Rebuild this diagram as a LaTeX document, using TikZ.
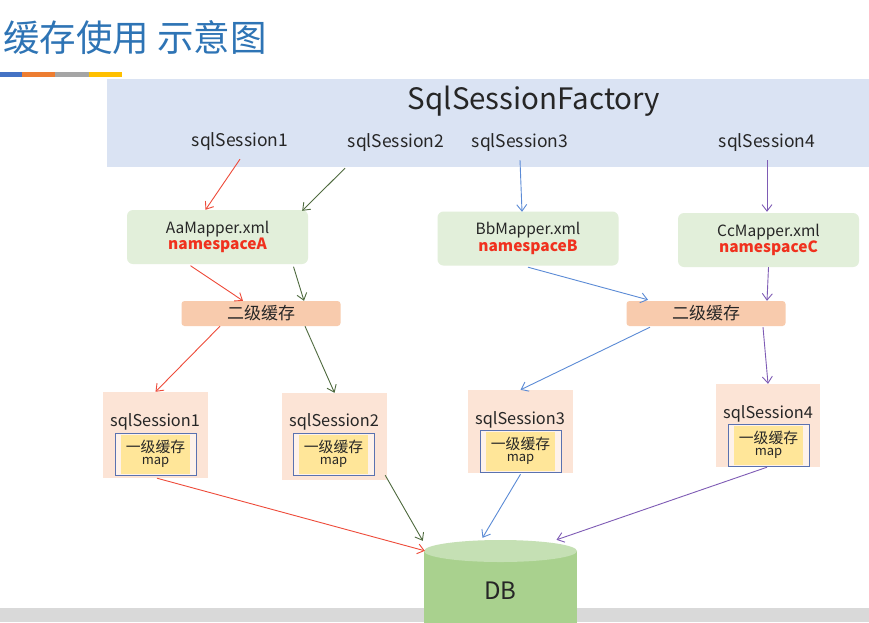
\documentclass[tikz,border=0pt]{standalone}
\usepackage{fontspec}
\setmainfont{Noto Sans CJK SC}
\usetikzlibrary{arrows.meta}
\definecolor{titleblue}{HTML}{2E74B5}
\definecolor{factfill}{HTML}{DAE3F3}
\definecolor{mapfill}{HTML}{E2EFDA}
\definecolor{cachetwo}{HTML}{F8CBAD}
\definecolor{sessfill}{HTML}{FCE4D6}
\definecolor{cacheone}{HTML}{FFE699}
\definecolor{innerline}{HTML}{5A72B0}
\definecolor{nsred}{HTML}{F0311E}
\definecolor{txt}{HTML}{262626}
\definecolor{cred}{HTML}{EE4B3A}
\definecolor{cgreen}{HTML}{4F6B3F}
\definecolor{cblue}{HTML}{5B8BD6}
\definecolor{cpurple}{HTML}{7E5BB5}
\definecolor{dbbody}{HTML}{A9D18E}
\definecolor{dbtop}{HTML}{C5E0B4}
\definecolor{barblue}{HTML}{4472C4}
\definecolor{barorange}{HTML}{ED7D31}
\definecolor{bargray}{HTML}{A5A5A5}
\definecolor{baryellow}{HTML}{FFC000}
\definecolor{floorgray}{HTML}{D9D9D9}
\begin{document}
\begin{tikzpicture}[x=1pt,y=-1pt,
  lab/.style={text=txt, font=\fontsize{17.5}{20}\selectfont, inner sep=1pt},
  mapbox/.style={fill=mapfill, rounded corners=6pt, minimum width=181pt, minimum height=54pt, inner sep=0pt, align=center, text=txt, font=\fontsize{15.5}{18}\selectfont},
  cachebox/.style={fill=cachetwo, rounded corners=3pt, minimum width=159pt, minimum height=25pt, inner sep=0pt, text=txt, font=\fontsize{17}{19}\selectfont},
  sessbox/.style={fill=sessfill, minimum width=105pt, inner sep=0pt},
  sesslab/.style={text=txt, font=\fontsize{16.3}{18}\selectfont, inner sep=0pt},
  innerbox/.style={draw=innerline, line width=0.8pt, fill=sessfill!50!white, minimum width=81pt, minimum height=42pt, inner sep=0pt, align=center, text=txt,
    path picture={\fill[cacheone] ([xshift=6pt,yshift=-1.5pt]path picture bounding box.north west) rectangle ([xshift=-6pt,yshift=1.5pt]path picture bounding box.south east);}},
  conn/.style={line width=0.9pt, -{Straight Barb[length=6.5pt,width=10pt]}}
]
\useasboundingbox (0,0) rectangle (869,622);
\fill[white] (0,0) rectangle (869,622);

% title and colour bar
\node[anchor=west, text=titleblue, font=\fontsize{36.5}{42}\selectfont, inner sep=0pt] (title) at (3,38) {缓存使用 示意图};
\fill[barblue] (0,72) rectangle (22,77);
\fill[barorange] (22,72) rectangle (55,77);
\fill[bargray] (55,72) rectangle (89,77);
\fill[baryellow] (89,72) rectangle (122,77);

% factory
\node[fill=factfill, minimum width=762pt, minimum height=88pt, anchor=north west, inner sep=0pt] (factory) at (107,79) {};
\node[text=txt, font=\fontsize{29.5}{33}\selectfont, inner sep=0pt] (fname) at (534,101) {SqlSessionFactory};
\node[lab] (s1lab) at (240,142) {sqlSession1};
\node[lab] (s2lab) at (396,143) {sqlSession2};
\node[lab] (s3lab) at (520,143) {sqlSession3};
\node[lab] (s4lab) at (767,143) {sqlSession4};

% mappers
\node[mapbox] (mapA) at (217.5,237) {AaMapper.xml\\[-1.5pt]{\color{nsred}\bfseries namespaceA}};
\node[mapbox] (mapB) at (528,238.5) {BbMapper.xml\\[-1.5pt]{\color{nsred}\bfseries namespaceB}};
\node[mapbox] (mapC) at (768.5,240) {CcMapper.xml\\[-1.5pt]{\color{nsred}\bfseries namespaceC}};

% second level caches
\node[cachebox] (c2A) at (261,313.5) {二级缓存};
\node[cachebox] (c2B) at (706,313.5) {二级缓存};

% sessions
\node[sessbox, minimum height=86pt] (s1box) at (155.5,435) {};
\node[sessbox, minimum height=87pt] (s2box) at (334.5,436.5) {};
\node[sessbox, minimum height=83pt] (s3box) at (520.5,431.5) {};
\node[sessbox, minimum width=104pt, minimum height=83pt] (s4box) at (768,425.5) {};

\node[sesslab] (s1name) at (155,422) {sqlSession1};
\node[sesslab] (s2name) at (334,422) {sqlSession2};
\node[sesslab] (s3name) at (520,420) {sqlSession3};
\node[sesslab] (s4name) at (768,414) {sqlSession4};

\node[innerbox] (s1c) at (155.5,454) {{\fontsize{14.8}{16}\selectfont 一级缓存}\\{\fontsize{13}{14}\selectfont map}};
\node[innerbox] (s2c) at (333.5,454) {{\fontsize{14.8}{16}\selectfont 一级缓存}\\{\fontsize{13}{14}\selectfont map}};
\node[innerbox] (s3c) at (520.5,451) {{\fontsize{14.8}{16}\selectfont 一级缓存}\\{\fontsize{13}{14}\selectfont map}};
\node[innerbox] (s4c) at (768.5,445) {{\fontsize{14.8}{16}\selectfont 一级缓存}\\{\fontsize{13}{14}\selectfont map}};

% floor and database
\fill[floorgray] (0,608) rectangle (869,622);
\fill[dbbody] (424,551) rectangle (577,625);
\fill[dbbody] (500.5,625) ellipse [x radius=76.5pt, y radius=11pt];
\fill[dbtop] (500.5,551) ellipse [x radius=76.5pt, y radius=11pt];
\node[text=txt, font=\fontsize{24}{28}\selectfont, minimum width=153pt, minimum height=102pt, inner sep=0pt] (db) at (500.5,591) {DB};

% connectors factory -> mappers
\draw[conn, cred] ([yshift=-7pt]s1lab.south) -- ([xshift=-12pt]mapA.north);
\draw[conn, cgreen] ([xshift=-51pt,yshift=-15pt]s2lab.south) -- ([xshift=-6pt,yshift=-1pt]mapA.north east);
\draw[conn, cblue] ([yshift=-7pt]s3lab.south) -- ([xshift=-6pt,yshift=-0.5pt]mapB.north);
\draw[conn, cpurple] ([yshift=-7pt]s4lab.south) -- ([xshift=-1.5pt,yshift=1pt]mapC.north);

% mappers -> second level cache
\draw[conn, cred] ([xshift=-27pt,yshift=-1.5pt]mapA.south) -- ([xshift=-18pt]c2A.north);
\draw[conn, cgreen] ([xshift=76pt,yshift=-2.5pt]mapA.south) -- ([xshift=43pt]c2A.north);
\draw[conn, cblue] ([yshift=-1.5pt]mapB.south) -- ([xshift=-58pt,yshift=1pt]c2B.north);
\draw[conn, cpurple] (mapC.south) -- ([xshift=61pt]c2B.north);

% second level cache -> sessions
\draw[conn, cred] ([xshift=-41pt]c2A.south) -- (s1box.north);
\draw[conn, cgreen] ([xshift=44pt]c2A.south) -- (s2box.north);
\draw[conn, cblue] ([xshift=-56pt,yshift=-1pt]c2B.south) -- (s3box.north);
\draw[conn, cpurple] ([xshift=57pt,yshift=-1pt]c2B.south) -- (s4box.north);

% sessions -> db
\draw[conn, cred] ([xshift=1.5pt]s1box.south) -- ([xshift=1pt,yshift=-11pt]db.north west);
\draw[conn, cgreen] ([xshift=-2pt,yshift=5pt]s2box.south east) -- ([xshift=-1pt,yshift=-1pt]db.north west);
\draw[conn, cblue] ([yshift=-1pt]s3box.south) -- ([xshift=-18pt,yshift=2pt]db.north);
\draw[conn, cpurple] ([xshift=-1pt]s4box.south) -- ([xshift=56pt]db.north);
\end{tikzpicture}
\end{document}
